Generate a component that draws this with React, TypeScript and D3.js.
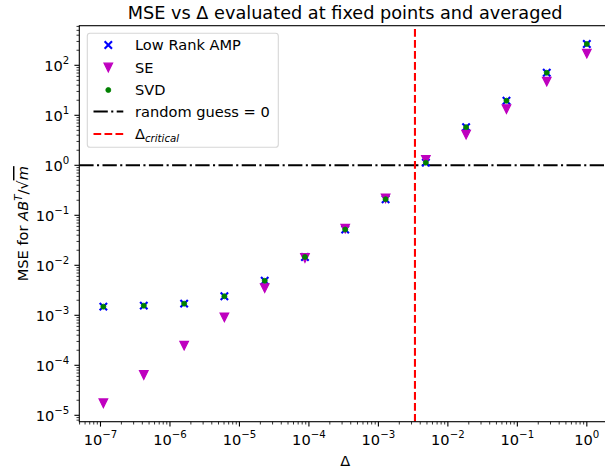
import React, { useEffect, useRef } from "react";
import * as d3 from "d3";

// values
const deltas = [
  1.1e-7, 4.2e-7, 1.6e-6, 6.07e-6, 2.31e-5, 8.77e-5, 3.33e-4, 1.27e-3, 4.82e-3,
  1.83e-2, 6.97e-2, 0.265, 1.0,
];
const ampMse = [
  1.49e-3, 1.56e-3, 1.71e-3, 2.4e-3, 4.9e-3, 1.47e-2, 5.2e-2, 0.21, 1.13, 5.8,
  19.6, 71, 267,
];
const seMse = [
  1.74e-5, 6.4e-5, 2.47e-4, 9.1e-4, 3.5e-3, 1.4e-2, 5.4e-2, 0.219, 1.28, 4.1,
  13.3, 47, 171,
];
const svdMse = [
  1.49e-3, 1.56e-3, 1.71e-3, 2.4e-3, 4.9e-3, 1.47e-2, 5.2e-2, 0.21, 1.13, 5.8,
  19.6, 71, 267,
];
const deltaCritical = 3.36e-3;
const randomGuess = 1;

const xTickExps = [-7, -6, -5, -4, -3, -2, -1, 0];
const yTickExps = [-5, -4, -3, -2, -1, 0, 1, 2];

const FONT = "DejaVu Sans";
const WIDTH = 605;
const HEIGHT = 475;
const FS = 14.6;
const FS_SUP = 10.2;

type Marker = "x" | "v" | "o";

function drawMarker(g: d3.Selection<SVGGElement, unknown, null, undefined>, kind: Marker, cx: number, cy: number) {
  if (kind === "x") {
    const s = 3.7;
    g.append("path")
      .attr("d", `M${cx - s},${cy - s}L${cx + s},${cy + s}M${cx - s},${cy + s}L${cx + s},${cy - s}`)
      .attr("stroke", "#0000ff")
      .attr("stroke-width", 2.1)
      .attr("fill", "none");
  } else if (kind === "v") {
    const s = 4.3;
    g.append("path")
      .attr("d", `M${cx - s},${cy - s}L${cx + s},${cy - s}L${cx},${cy + s}Z`)
      .attr("fill", "#bf00bf")
      .attr("stroke", "#bf00bf")
      .attr("stroke-width", 1.2);
  } else {
    g.append("circle")
      .attr("cx", cx)
      .attr("cy", cy)
      .attr("r", 2.5)
      .attr("fill", "#008000")
      .attr("stroke", "#008000")
      .attr("stroke-width", 0.8);
  }
}

const Chart: React.FC = () => {
  const ref = useRef<SVGSVGElement | null>(null);

  useEffect(() => {
    const left = 79.3;
    const right = 611;
    const top = 25.7;
    const bottom = 421.7;

    const root = d3.select(ref.current);
    root.selectAll("*").remove();
    const svg = root.append("g");

    const x = d3.scaleLog().domain([10 ** -7.305, 10 ** 0.348]).range([left, right]);
    const y = d3.scaleLog().domain([10 ** -5.128, 10 ** 2.792]).range([bottom, top]);

    svg.append("clipPath")
      .attr("id", "plot-clip")
      .append("rect")
      .attr("x", left)
      .attr("y", top)
      .attr("width", right - left)
      .attr("height", bottom - top);

    // title
    svg.append("text")
      .attr("x", (left + right) / 2)
      .attr("y", 19)
      .attr("text-anchor", "middle")
      .attr("font-family", FONT)
      .attr("font-size", 17.7)
      .text("MSE vs Δ evaluated at fixed points and averaged");

    const plot = svg.append("g").attr("clip-path", "url(#plot-clip)");

    // reference lines
    plot.append("line")
      .attr("x1", left)
      .attr("x2", right)
      .attr("y1", y(randomGuess))
      .attr("y2", y(randomGuess))
      .attr("stroke", "#000")
      .attr("stroke-width", 2.1)
      .attr("stroke-dasharray", "14.3,3.4,2.1,3.4");

    plot.append("line")
      .attr("x1", x(deltaCritical))
      .attr("x2", x(deltaCritical))
      .attr("y1", bottom)
      .attr("y2", top)
      .attr("stroke", "#ff0000")
      .attr("stroke-width", 2.1)
      .attr("stroke-dasharray", "7.7,3.3");

    // series: AMP, SE, SVD in drawing order
    const series: [number[], Marker][] = [
      [ampMse, "x"],
      [seMse, "v"],
      [svdMse, "o"],
    ];
    series.forEach(([vals, kind]) => {
      const g = plot.append("g");
      vals.forEach((v, i) => drawMarker(g, kind, x(deltas[i]), y(v)));
    });

    // ticks
    const majorX = xTickExps.map((e) => 10 ** e);
    const majorY = yTickExps.map((e) => 10 ** e);
    const isMajor = (d: number) => Math.abs(Math.log10(d) - Math.round(Math.log10(d))) < 1e-9;
    const minorX = x.ticks().filter((d) => !isMajor(d));
    const minorY = y.ticks().filter((d) => !isMajor(d));

    const axes = svg.append("g").attr("stroke", "#000");
    axes.selectAll(".xmaj").data(majorX).join("line")
      .attr("x1", (d) => x(d)).attr("x2", (d) => x(d))
      .attr("y1", bottom).attr("y2", bottom + 4.9)
      .attr("stroke-width", 1.1);
    axes.selectAll(".xmin").data(minorX).join("line")
      .attr("x1", (d) => x(d)).attr("x2", (d) => x(d))
      .attr("y1", bottom).attr("y2", bottom + 2.8)
      .attr("stroke-width", 0.8);
    axes.selectAll(".ymaj").data(majorY).join("line")
      .attr("y1", (d) => y(d)).attr("y2", (d) => y(d))
      .attr("x1", left).attr("x2", left - 4.9)
      .attr("stroke-width", 1.1);
    axes.selectAll(".ymin").data(minorY).join("line")
      .attr("y1", (d) => y(d)).attr("y2", (d) => y(d))
      .attr("x1", left).attr("x2", left - 2.8)
      .attr("stroke-width", 0.8);

    // spines
    svg.append("rect")
      .attr("x", left)
      .attr("y", top)
      .attr("width", right - left)
      .attr("height", bottom - top)
      .attr("fill", "none")
      .attr("stroke", "#000")
      .attr("stroke-width", 1.1);

    const powLabel = (
      t: d3.Selection<SVGTextElement, unknown, null, undefined>,
      exp: number,
    ) => {
      t.append("tspan").text("10");
      t.append("tspan")
        .attr("dy", -6.8)
        .attr("font-size", FS_SUP)
        .text(exp < 0 ? `−${-exp}` : `${exp}`);
    };

    xTickExps.forEach((e) => {
      const t = svg.append("text")
        .attr("x", x(10 ** e))
        .attr("y", 445)
        .attr("text-anchor", "middle")
        .attr("font-family", FONT)
        .attr("font-size", FS) as any;
      powLabel(t, e);
    });
    yTickExps.forEach((e) => {
      const t = svg.append("text")
        .attr("x", left - 10)
        .attr("y", y(10 ** e) + 5.2)
        .attr("text-anchor", "end")
        .attr("font-family", FONT)
        .attr("font-size", FS) as any;
      powLabel(t, e);
    });

    // axis labels
    svg.append("text")
      .attr("x", (left + right) / 2)
      .attr("y", 466)
      .attr("text-anchor", "middle")
      .attr("font-family", FONT)
      .attr("font-size", FS)
      .text("Δ");

    const yl = svg.append("text")
      .attr("transform", `translate(28,${(top + bottom) / 2}) rotate(-90)`)
      .attr("text-anchor", "middle")
      .attr("font-family", FONT)
      .attr("font-size", FS);
    yl.append("tspan").text("MSE for ");
    yl.append("tspan").attr("font-style", "italic").text("AB");
    yl.append("tspan").attr("font-style", "italic").attr("font-size", FS_SUP).attr("dy", -6).text("T");
    yl.append("tspan").attr("dy", 6).text("/√");
    yl.append("tspan").attr("font-style", "italic").attr("text-decoration", "overline").text("m");

    // legend
    const lg = svg.append("g");
    lg.append("rect")
      .attr("x", 87.3)
      .attr("y", 33.3)
      .attr("width", 191)
      .attr("height", 114)
      .attr("rx", 2.8)
      .attr("fill", "#fff")
      .attr("fill-opacity", 0.8)
      .attr("stroke", "#cccccc")
      .attr("stroke-opacity", 0.8)
      .attr("stroke-width", 1.1);

    const legendRows: { label: string; kind: Marker | "dashdot" | "dash"; cy: number }[] = [
      { label: "Low Rank AMP", kind: "x", cy: 45 },
      { label: "SE", kind: "v", cy: 67.5 },
      { label: "SVD", kind: "o", cy: 90 },
      { label: "random guess = 0", kind: "dashdot", cy: 111.5 },
      { label: "Δ", kind: "dash", cy: 134 },
    ];
    legendRows.forEach((r) => {
      if (r.kind === "dashdot" || r.kind === "dash") {
        lg.append("line")
          .attr("x1", 93.5)
          .attr("x2", 123.3)
          .attr("y1", r.cy)
          .attr("y2", r.cy)
          .attr("stroke", r.kind === "dash" ? "#ff0000" : "#000")
          .attr("stroke-width", 2.1)
          .attr("stroke-dasharray", r.kind === "dash" ? "7.7,3.3" : "14.3,3.4,2.1,3.4");
      } else {
        drawMarker(lg as any, r.kind, 108.3, r.cy);
      }
      const t = lg.append("text")
        .attr("x", 135)
        .attr("y", r.cy + 5.2)
        .attr("font-family", FONT)
        .attr("font-size", FS)
        .text(r.label);
      if (r.kind === "dash") {
        t.append("tspan")
          .attr("font-style", "italic")
          .attr("font-size", FS_SUP)
          .attr("dy", 3)
          .text("critical");
      }
    });
  }, []);

  return (
    <svg
      ref={ref}
      width={WIDTH}
      height={HEIGHT}
      style={{ position: "absolute", left: 0, top: 0, background: "#fff", overflow: "hidden" }}
    ></svg>
  );
};

export default function App() {
  return <Chart />;
}
